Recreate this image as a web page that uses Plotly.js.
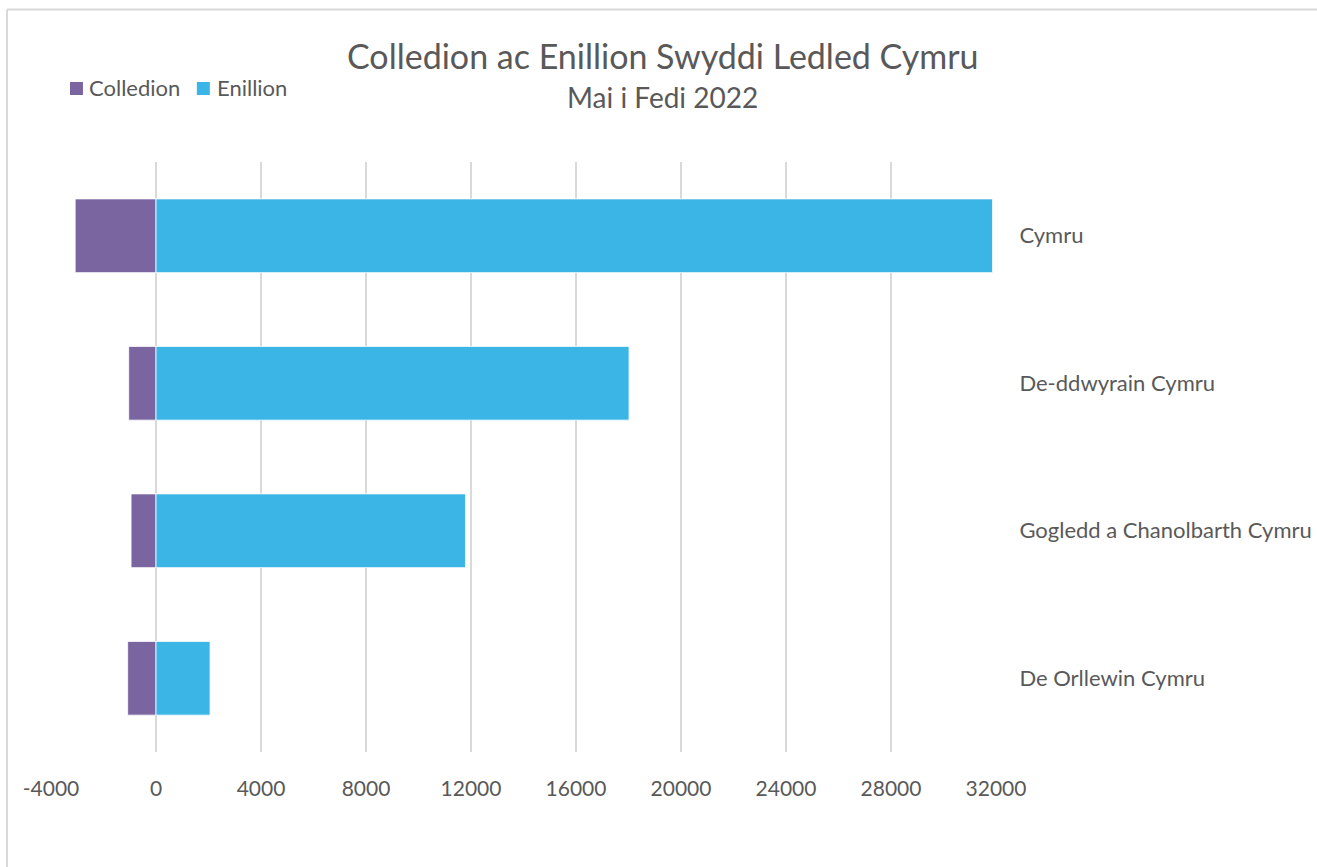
<!DOCTYPE html>
<html>
<head>
<meta charset="utf-8">
<script src="https://cdn.plot.ly/plotly-3.0.1.min.js"></script>
<style>html,body{margin:0;padding:0;background:#fff;}#chart{width:1317px;height:867px;}</style>
</head>
<body>
<div id="chart"></div>
<script>
const regions = ["Cymru", "De-ddwyrain Cymru", "Gogledd a Chanolbarth Cymru", "De Orllewin Cymru"];
const colledion = [-3080, -1040, -950, -1080];
const enillion = [31870, 18020, 11790, 2060];
const tickVals = [-4000, 0, 4000, 8000, 12000, 16000, 20000, 24000, 28000, 32000];
const seriesNames = ["Colledion", "Enillion"];
const seriesColors = ["#7A65A1", "#3BB5E6"];

const FONT = "Lato, 'Open Sans', sans-serif";
const GREY = "#595959";

const data = [
  {type: "bar", orientation: "h", name: seriesNames[0], y: regions, x: colledion,
   marker: {color: seriesColors[0], line: {color: "rgba(255,255,255,0.8)", width: 1}}, hoverinfo: "x+y"},
  {type: "bar", orientation: "h", name: seriesNames[1], y: regions, x: enillion,
   marker: {color: seriesColors[1], line: {color: "rgba(255,255,255,0.8)", width: 1}}, hoverinfo: "x+y"}
];

// px -> paper helpers (plot area: x 51..996, y 162..752)
const px = v => (v - 51) / 946;
const py = v => (752 - v) / 590;

const layout = {
  width: 1317, height: 867,
  margin: {l: 51, r: 321, t: 162, b: 115},
  paper_bgcolor: "#fff", plot_bgcolor: "#fff",
  barmode: "relative", bargap: 0.5,
  font: {family: FONT, color: GREY, size: 20},
  showlegend: false,
  xaxis: {range: [-4000, 32000], tickvals: tickVals, ticktext: tickVals.map(String),
          showgrid: true, gridcolor: "#d9d9d9", gridwidth: 1.5, zeroline: false,
          showline: false, ticks: "outside", ticklen: 18, tickcolor: "rgba(0,0,0,0)",
          tickfont: {family: FONT, size: 21, color: GREY}, fixedrange: true},
  yaxis: {type: "category", autorange: "reversed", side: "right", showgrid: false,
          zeroline: false, showline: false, ticks: "outside", ticklen: 18,
          tickcolor: "rgba(0,0,0,0)", tickfont: {family: FONT, size: 22, color: GREY}, fixedrange: true},
  annotations: [
    {text: "Colledion ac Enillion Swyddi Ledled Cymru", xref: "paper", yref: "paper",
     x: px(663.5), y: py(55), xanchor: "center", yanchor: "middle", showarrow: false,
     font: {family: FONT, size: 34, color: GREY}},
    {text: "Mai i Fedi 2022", xref: "paper", yref: "paper",
     x: px(663.5), y: py(97), xanchor: "center", yanchor: "middle", showarrow: false,
     font: {family: FONT, size: 28, color: GREY}},
    {text: seriesNames[0], xref: "paper", yref: "paper", x: px(87), y: py(88),
     xanchor: "left", yanchor: "middle", showarrow: false, font: {family: FONT, size: 22, color: GREY}},
    {text: seriesNames[1], xref: "paper", yref: "paper", x: px(215), y: py(88),
     xanchor: "left", yanchor: "middle", showarrow: false, font: {family: FONT, size: 22, color: GREY}}
  ],
  shapes: [
    {type: "rect", xref: "paper", yref: "paper", x0: px(70), x1: px(83), y0: py(95), y1: py(82),
     fillcolor: seriesColors[0], line: {width: 0}},
    {type: "rect", xref: "paper", yref: "paper", x0: px(197), x1: px(210), y0: py(95), y1: py(82),
     fillcolor: seriesColors[1], line: {width: 0}},
    {type: "line", xref: "paper", yref: "paper", x0: px(7), x1: 1.5, y0: py(9.5), y1: py(9.5),
     line: {color: "#d9d9d9", width: 2}},
    {type: "line", xref: "paper", yref: "paper", x0: px(7), x1: px(7), y0: py(9.5), y1: -0.5,
     line: {color: "#d9d9d9", width: 2}}
  ]
};

Plotly.newPlot("chart", data, layout, {displayModeBar: false});
</script>
</body>
</html>
